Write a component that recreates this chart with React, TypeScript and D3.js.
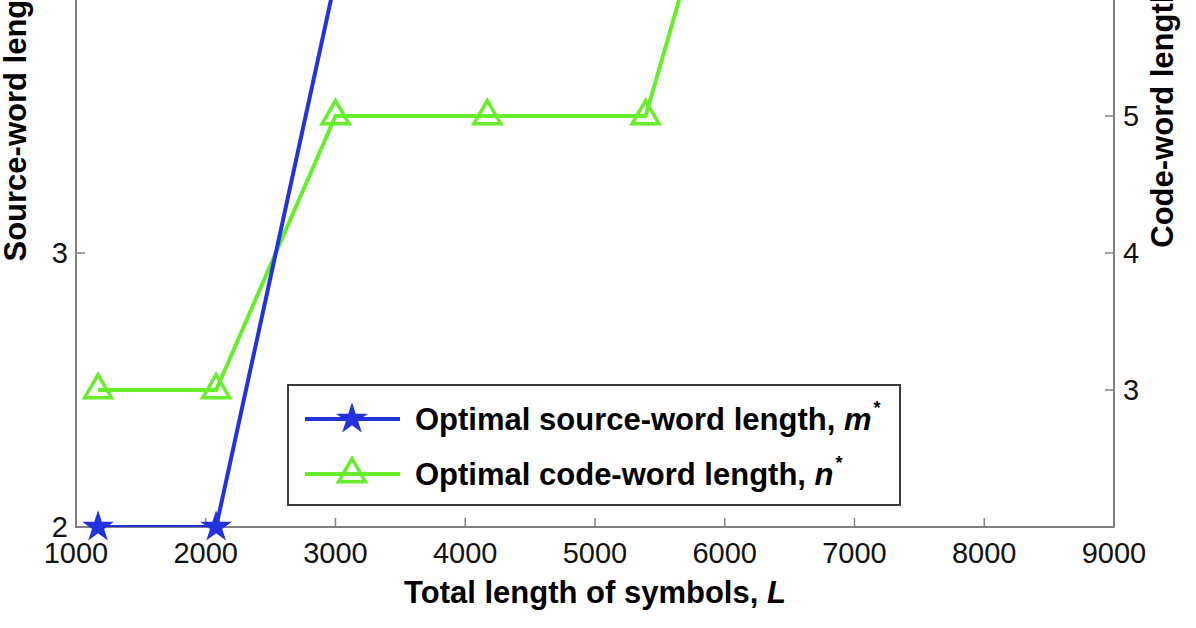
import React, { useEffect, useRef } from 'react';
import * as d3 from 'd3';

// total length of symbols L (x values of the sampled points)
const lengthsL = [1170, 2080, 3000, 4170, 5390];
const sourceWordLen = [2, 2, 4, 4, 4]; // m*, left axis
const codeLengthsL = [1170, 2080, 3000, 4170, 5390, 6000];
const codeWordLen = [3, 3, 5, 5, 5, 7]; // n*, right axis

const xTicks = [1000, 2000, 3000, 4000, 5000, 6000, 7000, 8000, 9000];
const leftTicks = [2, 3, 4, 5];
const rightTicks = [3, 4, 5, 6, 7, 8];

const BLUE = '#2233dd';
const GREEN = '#66ee2a';
const FONT = '"Liberation Sans", Arial, Helvetica, sans-serif';

const App: React.FC = () => {
  const svgRef = useRef<SVGSVGElement>(null);

  useEffect(() => {
    if (!svgRef.current) return;
    const svg = d3.select(svgRef.current);
    svg.selectAll('*').remove();

    // plot box: top sits above the visible window (picture is cropped)
    const left = 76, right = 1114, bottom = 527, top = -295;

    const x = d3.scaleLinear().domain([1000, 9000]).range([left, right]);
    const yL = d3.scaleLinear().domain([2, 5]).range([bottom, top]);
    const yR = d3.scaleLinear().domain([2, 8]).range([bottom, top]);

    svg.append('rect').attr('width', 1196).attr('height', 628).attr('fill', '#fff');

    const axisColor = '#808080';

    // frame
    svg.append('rect')
      .attr('x', left).attr('y', top)
      .attr('width', right - left).attr('height', bottom - top)
      .attr('fill', 'none').attr('stroke', axisColor).attr('stroke-width', 2);

    // x ticks (inward)
    const xg = svg.append('g');
    xTicks.forEach(t => {
      xg.append('line')
        .attr('x1', x(t)).attr('x2', x(t)).attr('y1', bottom).attr('y2', bottom - 9)
        .attr('stroke', axisColor).attr('stroke-width', 1.5);
      xg.append('text')
        .attr('x', x(t)).attr('y', 563)
        .attr('text-anchor', 'middle')
        .style('font-family', FONT).style('font-size', '29px').style('fill', '#111')
        .text(t);
    });

    // left ticks
    leftTicks.forEach(t => {
      svg.append('line')
        .attr('x1', left).attr('x2', left + 9).attr('y1', yL(t)).attr('y2', yL(t))
        .attr('stroke', axisColor).attr('stroke-width', 1.5);
      svg.append('text')
        .attr('x', left - 8).attr('y', yL(t) + 10)
        .attr('text-anchor', 'end')
        .style('font-family', FONT).style('font-size', '29px').style('fill', '#111')
        .text(t);
    });

    // right ticks
    rightTicks.forEach(t => {
      svg.append('line')
        .attr('x1', right - 9).attr('x2', right).attr('y1', yR(t)).attr('y2', yR(t))
        .attr('stroke', axisColor).attr('stroke-width', 1.5);
      svg.append('text')
        .attr('x', right + 9).attr('y', yR(t) + 10)
        .attr('text-anchor', 'start')
        .style('font-family', FONT).style('font-size', '29px').style('fill', '#111')
        .text(t);
    });

    // axis titles
    const midY = (top + bottom) / 2;
    svg.append('text')
      .attr('transform', `translate(26,${midY}) rotate(-90)`)
      .attr('text-anchor', 'middle')
      .style('font-family', FONT).style('font-size', '31px').style('font-weight', 'bold')
      .text('Source-word length');
    svg.append('text')
      .attr('transform', `translate(1173,${midY}) rotate(-90)`)
      .attr('text-anchor', 'middle')
      .style('font-family', FONT).style('font-size', '31px').style('font-weight', 'bold')
      .text('Code-word length');

    const xt = svg.append('text')
      .attr('x', (left + right) / 2).attr('y', 603)
      .attr('text-anchor', 'middle')
      .style('font-family', FONT).style('font-size', '31px').style('font-weight', 'bold');
    xt.append('tspan').text('Total length of symbols, ');
    xt.append('tspan').style('font-style', 'italic').text('L');

    // series
    const blueData = lengthsL.map((l, i) => [l, sourceWordLen[i]] as [number, number]);
    const greenData = codeLengthsL.map((l, i) => [l, codeWordLen[i]] as [number, number]);

    const clip = svg.append('defs').append('clipPath').attr('id', 'plotClip');
    clip.append('rect').attr('x', left).attr('y', top).attr('width', right - left).attr('height', bottom - top);

    const plot = svg.append('g').attr('clip-path', 'url(#plotClip)');

    const star = d3.symbol().type(d3.symbolStar).size(230);
    const tri = d3.symbol().type(d3.symbolTriangle).size(310);

    plot.append('path')
      .datum(greenData)
      .attr('fill', 'none').attr('stroke', GREEN).attr('stroke-width', 4)
      .attr('d', d3.line<[number, number]>().x(d => x(d[0])).y(d => yR(d[1])));
    plot.selectAll('.tri')
      .data(greenData)
      .join('path')
      .attr('class', 'tri')
      .attr('transform', d => `translate(${x(d[0])},${yR(d[1])})`)
      .attr('d', tri as any)
      .attr('fill', 'none').attr('stroke', GREEN).attr('stroke-width', 3.5);

    plot.append('path')
      .datum(blueData)
      .attr('fill', 'none').attr('stroke', BLUE).attr('stroke-width', 4)
      .attr('d', d3.line<[number, number]>().x(d => x(d[0])).y(d => yL(d[1])));
    svg.selectAll('.star')
      .data(blueData)
      .join('path')
      .attr('class', 'star')
      .attr('transform', d => `translate(${x(d[0])},${yL(d[1])})`)
      .attr('d', star as any)
      .attr('fill', BLUE).attr('stroke', BLUE).attr('stroke-width', 1.5);

    // legend
    const lg = svg.append('g').attr('transform', 'translate(288,385)');
    lg.append('rect').attr('width', 612).attr('height', 120)
      .attr('fill', '#fff').attr('stroke', '#3a3a3a').attr('stroke-width', 2);

    const rows = [
      { color: BLUE, sym: star, fill: BLUE, label: 'Optimal source-word length, ', v: 'm' },
      { color: GREEN, sym: tri, fill: 'none', label: 'Optimal code-word length, ', v: 'n' },
    ];
    rows.forEach((r, i) => {
      const cy = 34 + i * 55;
      lg.append('line').attr('x1', 17).attr('x2', 112).attr('y1', cy).attr('y2', cy)
        .attr('stroke', r.color).attr('stroke-width', 4);
      lg.append('path')
        .attr('transform', `translate(64,${cy})`)
        .attr('d', r.sym as any)
        .attr('fill', r.fill).attr('stroke', r.color).attr('stroke-width', r.fill === 'none' ? 3.5 : 1.5);
      const t = lg.append('text').attr('x', 127).attr('y', cy + 11)
        .style('font-family', FONT).style('font-size', '31px').style('font-weight', 'bold');
      t.append('tspan').text(r.label);
      t.append('tspan').style('font-style', 'italic').text(r.v);
      t.append('tspan').attr('dy', -16).attr('dx', 2).style('font-size', '18px').text('*');
    });
  }, []);

  return (
    <svg
      ref={svgRef}
      width={1196}
      height={628}
      style={{ position: 'absolute', left: 0, top: 0, display: 'block' }}
    />
  );
};

export default App;
